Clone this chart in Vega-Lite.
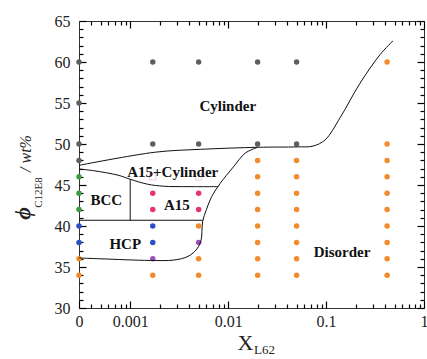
{
  "$schema": "https://vega.github.io/schema/vega-lite/v6.json",
  "width": 345,
  "height": 287,
  "autosize": {"type": "none"},
  "padding": {"left": 79, "top": 21, "right": 3, "bottom": 51},
  "background": "white",
  "config": {
    "view": {"stroke": "#333333", "strokeWidth": 1},
    "mark": {"invalid": "show"}
  },
  "datasets": {
    "pts": [
      {"x": 0, "y": 60, "p": "cyl"}, {"x": 0, "y": 55, "p": "cyl"}, {"x": 0, "y": 50, "p": "cyl"}, {"x": 0, "y": 48, "p": "cyl"},
      {"x": 0, "y": 46, "p": "bcc"}, {"x": 0, "y": 44, "p": "bcc"}, {"x": 0, "y": 42, "p": "bcc"},
      {"x": 0, "y": 40, "p": "hcp"}, {"x": 0, "y": 38, "p": "hcp"},
      {"x": 0, "y": 36, "p": "dis"}, {"x": 0, "y": 34, "p": "dis"},
      {"x": 0.0017, "y": 60, "p": "cyl"}, {"x": 0.0017, "y": 50, "p": "cyl"},
      {"x": 0.0017, "y": 44, "p": "a15"}, {"x": 0.0017, "y": 42, "p": "a15"},
      {"x": 0.0017, "y": 40, "p": "hcp"}, {"x": 0.0017, "y": 38, "p": "hcp"},
      {"x": 0.0017, "y": 36, "p": "mix"}, {"x": 0.0017, "y": 34, "p": "dis"},
      {"x": 0.005, "y": 60, "p": "cyl"}, {"x": 0.005, "y": 50, "p": "cyl"},
      {"x": 0.005, "y": 44, "p": "a15"}, {"x": 0.005, "y": 42, "p": "a15"},
      {"x": 0.005, "y": 40, "p": "dis"}, {"x": 0.005, "y": 38, "p": "mix"},
      {"x": 0.005, "y": 36, "p": "dis"}, {"x": 0.005, "y": 34, "p": "dis"},
      {"x": 0.02, "y": 60, "p": "cyl"}, {"x": 0.02, "y": 50, "p": "cyl"},
      {"x": 0.02, "y": 48, "p": "dis"}, {"x": 0.02, "y": 46, "p": "dis"}, {"x": 0.02, "y": 44, "p": "dis"}, {"x": 0.02, "y": 42, "p": "dis"},
      {"x": 0.02, "y": 40, "p": "dis"}, {"x": 0.02, "y": 38, "p": "dis"}, {"x": 0.02, "y": 36, "p": "dis"}, {"x": 0.02, "y": 34, "p": "dis"},
      {"x": 0.05, "y": 60, "p": "cyl"}, {"x": 0.05, "y": 50, "p": "cyl"},
      {"x": 0.05, "y": 48, "p": "dis"}, {"x": 0.05, "y": 46, "p": "dis"}, {"x": 0.05, "y": 44, "p": "dis"}, {"x": 0.05, "y": 42, "p": "dis"},
      {"x": 0.05, "y": 40, "p": "dis"}, {"x": 0.05, "y": 38, "p": "dis"}, {"x": 0.05, "y": 36, "p": "dis"}, {"x": 0.05, "y": 34, "p": "dis"},
      {"x": 0.42, "y": 60, "p": "dis"}, {"x": 0.42, "y": 50, "p": "dis"},
      {"x": 0.42, "y": 48, "p": "dis"}, {"x": 0.42, "y": 46, "p": "dis"}, {"x": 0.42, "y": 44, "p": "dis"}, {"x": 0.42, "y": 42, "p": "dis"},
      {"x": 0.42, "y": 40, "p": "dis"}, {"x": 0.42, "y": 38, "p": "dis"}, {"x": 0.42, "y": 36, "p": "dis"}, {"x": 0.42, "y": 34, "p": "dis"}
    ],
    "sq": [
      {"x": 0.0017, "y": 46}, {"x": 0.005, "y": 46}
    ],
    "curves": [
      {"id": "cyl", "o": 1, "x": 0, "y": 47.4},
      {"id": "cyl", "o": 2, "x": 0.0018, "y": 49.0},
      {"id": "cyl", "o": 3, "x": 0.0052, "y": 49.35},
      {"id": "cyl", "o": 4, "x": 0.0202, "y": 49.6},
      {"id": "cyl", "o": 5, "x": 0.0506, "y": 49.65},
      {"id": "cyl", "o": 6, "x": 0.0736, "y": 49.75},
      {"id": "cyl", "o": 7, "x": 0.0977, "y": 50.5},
      {"id": "cyl", "o": 8, "x": 0.139, "y": 53.2},
      {"id": "cyl", "o": 9, "x": 0.222, "y": 57.4},
      {"id": "cyl", "o": 10, "x": 0.356, "y": 60.9},
      {"id": "cyl", "o": 11, "x": 0.483, "y": 62.6},
      {"id": "a15", "o": 1, "x": 0.02, "y": 49.6},
      {"id": "a15", "o": 2, "x": 0.015, "y": 48.9},
      {"id": "a15", "o": 3, "x": 0.0113, "y": 47.2},
      {"id": "a15", "o": 4, "x": 0.0083, "y": 45.2},
      {"id": "a15", "o": 5, "x": 0.0068, "y": 43.6},
      {"id": "a15", "o": 6, "x": 0.006, "y": 42.0},
      {"id": "a15", "o": 7, "x": 0.0055, "y": 40.6},
      {"id": "a15", "o": 8, "x": 0.0054, "y": 39.3},
      {"id": "a15", "o": 9, "x": 0.0053, "y": 38.3},
      {"id": "a15", "o": 10, "x": 0.0048, "y": 37.2},
      {"id": "a15", "o": 11, "x": 0.0039, "y": 36.3},
      {"id": "a15", "o": 12, "x": 0.0028, "y": 35.85},
      {"id": "a15", "o": 13, "x": 0.0016, "y": 35.8},
      {"id": "a15", "o": 14, "x": 0.0005, "y": 36.0},
      {"id": "a15", "o": 15, "x": 0, "y": 36.1},
      {"id": "a15cyl", "o": 1, "x": 0, "y": 46.95},
      {"id": "a15cyl", "o": 2, "x": 0.00042, "y": 46.75},
      {"id": "a15cyl", "o": 3, "x": 0.00075, "y": 46.2},
      {"id": "a15cyl", "o": 4, "x": 0.001, "y": 45.7},
      {"id": "a15cyl", "o": 5, "x": 0.0015, "y": 45.1},
      {"id": "a15cyl", "o": 6, "x": 0.0022, "y": 44.85},
      {"id": "a15cyl", "o": 7, "x": 0.004, "y": 44.8},
      {"id": "a15cyl", "o": 8, "x": 0.0079, "y": 44.8}
    ],
    "straight": [
      {"id": "bcchcp", "o": 1, "x": 0, "y": 40.7},
      {"id": "bcchcp", "o": 2, "x": 0.0055, "y": 40.7},
      {"id": "bcca15", "o": 1, "x": 0.001, "y": 40.7},
      {"id": "bcca15", "o": 2, "x": 0.001, "y": 45.7}
    ],
    "labels": [
      {"x": 0.0099, "y": 54.6, "t": "Cylinder"},
      {"x": 0.00272, "y": 46.6, "t": "A15+Cylinder"},
      {"x": 0.00057, "y": 43.2, "t": "BCC"},
      {"x": 0.0030, "y": 42.6, "t": "A15"},
      {"x": 0.00089, "y": 37.8, "t": "HCP"},
      {"x": 0.1455, "y": 36.8, "t": "Disorder"}
    ]
  },
  "resolve": {"axis": {"x": "independent", "y": "independent"}},
  "layer": [
    {
      "data": {"name": "pts"},
      "mark": {"type": "circle", "size": 30, "opacity": 1},
      "encoding": {
        "x": {
          "field": "x", "type": "quantitative",
          "scale": {"type": "log", "domain": [0.0003, 1], "clamp": true, "nice": false},
          "axis": {
            "orient": "bottom",
            "values": [0.0003, 0.001, 0.01, 0.1, 1],
            "labelExpr": "datum.value < 0.00035 ? '0' : format(datum.value, '~g')",
            "offset": -7, "ticks": true, "tickSize": 7, "tickWidth": 1.2, "tickColor": "#000000",
            "labelPadding": 5,
            "labelFont": "Liberation Serif", "labelFontSize": 16, "labelColor": "#222222",
            "labelOverlap": false, "labelFlush": false, "labelBound": false,
            "domain": false, "grid": false,
            "title": "X",
            "titleFont": "Liberation Serif", "titleFontSize": 22, "titleFontWeight": "normal", "titleColor": "#222222",
            "titleX": 166, "titleY": 41, "titleBaseline": "middle", "titleAlign": "center"
          }
        },
        "y": {
          "field": "y", "type": "quantitative",
          "scale": {"domain": [30, 65], "nice": false, "zero": false},
          "axis": {
            "orient": "left",
            "values": [30, 35, 40, 45, 50, 55, 60, 65],
            "offset": -7, "ticks": true, "tickSize": 7, "tickWidth": 1.2, "tickColor": "#000000",
            "labelPadding": 9,
            "labelFont": "Liberation Serif", "labelFontSize": 16, "labelColor": "#222222",
            "labelOverlap": false, "labelFlush": false,
            "domain": false, "grid": false,
            "title": "ϕ",
            "titleFont": "Liberation Serif", "titleFontSize": 22, "titleFontStyle": "italic", "titleFontWeight": "bold", "titleColor": "#222222",
            "titleX": -64, "titleY": 192, "titleBaseline": "middle", "titleAlign": "center", "titleAngle": 270
          }
        },
        "color": {
          "field": "p", "type": "nominal",
          "scale": {"domain": ["cyl", "bcc", "hcp", "dis", "a15", "mix"], "range": ["#5f5f5f", "#3e9a45", "#2a4fc4", "#f28b2c", "#e8336e", "#9a50b8"]},
          "legend": null
        }
      }
    },
    {
      "data": {"name": "sq"},
      "mark": {"type": "point", "shape": "square", "filled": false, "size": 40, "stroke": "#e2b2d8", "strokeWidth": 1},
      "encoding": {
        "x": {"field": "x", "type": "quantitative", "scale": {"type": "log", "domain": [0.0003, 1], "clamp": true, "nice": false}, "axis": null},
        "y": {
          "field": "y", "type": "quantitative", "scale": {"domain": [30, 65], "nice": false, "zero": false},
          "axis": {
            "orient": "left", "labels": false, "ticks": true, "domain": false, "grid": false,
            "values": [31,32,33,34,36,37,38,39,41,42,43,44,46,47,48,49,51,52,53,54,56,57,58,59,61,62,63,64],
            "offset": -4, "tickSize": 4, "tickWidth": 1.2, "tickColor": "#000000",
            "title": "/ wt%",
            "titleFont": "Liberation Serif", "titleFontSize": 16, "titleFontStyle": "italic", "titleFontWeight": "normal", "titleColor": "#222222",
            "titleX": -58, "titleY": 132, "titleBaseline": "middle", "titleAlign": "center", "titleAngle": 270
          }
        }
      }
    },
    {
      "data": {"name": "curves"},
      "mark": {"type": "line", "interpolate": "catmull-rom", "stroke": "#111111", "strokeWidth": 1},
      "encoding": {
        "x": {
          "field": "x", "type": "quantitative", "scale": {"type": "log", "domain": [0.0003, 1], "clamp": true, "nice": false},
          "axis": {
            "orient": "top", "labels": false, "domain": false, "grid": false, "title": null, "ticks": true,
            "values": [0.001, 0.01, 0.1, 1],
            "offset": -7, "tickSize": 7, "tickWidth": 1.2, "tickColor": "#000000"
          }
        },
        "y": {
          "field": "y", "type": "quantitative", "scale": {"domain": [30, 65], "nice": false, "zero": false},
          "axis": {
            "orient": "right", "labels": false, "domain": false, "grid": false, "title": null, "ticks": true,
            "values": [30, 35, 40, 45, 50, 55, 60, 65],
            "offset": -7, "tickSize": 7, "tickWidth": 1.2, "tickColor": "#000000"
          }
        },
        "detail": {"field": "id", "type": "nominal"},
        "order": {"field": "o", "type": "quantitative"}
      }
    },
    {
      "data": {"name": "straight"},
      "mark": {"type": "line", "interpolate": "linear", "stroke": "#111111", "strokeWidth": 1},
      "encoding": {
        "x": {
          "field": "x", "type": "quantitative", "scale": {"type": "log", "domain": [0.0003, 1], "clamp": true, "nice": false},
          "axis": {
            "orient": "top", "labels": false, "domain": false, "grid": false, "title": null, "ticks": true,
            "values": [0.0004,0.0005,0.0006,0.0007,0.0008,0.0009,0.002,0.003,0.004,0.005,0.006,0.007,0.008,0.009,0.02,0.03,0.04,0.05,0.06,0.07,0.08,0.09,0.2,0.3,0.4,0.5,0.6,0.7,0.8,0.9],
            "offset": -4, "tickSize": 4, "tickWidth": 1.2, "tickColor": "#000000"
          }
        },
        "y": {
          "field": "y", "type": "quantitative", "scale": {"domain": [30, 65], "nice": false, "zero": false},
          "axis": {
            "orient": "right", "labels": false, "domain": false, "grid": false, "title": null, "ticks": true,
            "values": [31,32,33,34,36,37,38,39,41,42,43,44,46,47,48,49,51,52,53,54,56,57,58,59,61,62,63,64],
            "offset": -4, "tickSize": 4, "tickWidth": 1.2, "tickColor": "#000000"
          }
        },
        "detail": {"field": "id", "type": "nominal"},
        "order": {"field": "o", "type": "quantitative"}
      }
    },
    {
      "data": {"name": "labels"},
      "mark": {"type": "text", "font": "Liberation Serif", "fontWeight": "bold", "fontSize": 15, "color": "#111111", "align": "center", "baseline": "middle"},
      "encoding": {
        "x": {
          "field": "x", "type": "quantitative", "scale": {"type": "log", "domain": [0.0003, 1], "clamp": true, "nice": false},
          "axis": {
            "orient": "bottom", "labels": false, "ticks": true, "domain": false, "grid": false,
            "values": [0.0004,0.0005,0.0006,0.0007,0.0008,0.0009,0.002,0.003,0.004,0.005,0.006,0.007,0.008,0.009,0.02,0.03,0.04,0.05,0.06,0.07,0.08,0.09,0.2,0.3,0.4,0.5,0.6,0.7,0.8,0.9],
            "offset": -4, "tickSize": 4, "tickWidth": 1.2, "tickColor": "#000000",
            "title": "L62",
            "titleFont": "Liberation Serif", "titleFontSize": 13, "titleFontWeight": "normal", "titleColor": "#222222",
            "titleX": 185, "titleY": 45, "titleBaseline": "middle", "titleAlign": "center"
          }
        },
        "y": {
          "field": "y", "type": "quantitative", "scale": {"domain": [30, 65], "nice": false, "zero": false},
          "axis": {
            "orient": "left", "labels": false, "ticks": false, "domain": false, "grid": false,
            "title": "C12E8",
            "titleFont": "Liberation Serif", "titleFontSize": 11, "titleFontWeight": "normal", "titleColor": "#222222",
            "titleX": -41, "titleY": 171, "titleBaseline": "middle", "titleAlign": "center", "titleAngle": 270
          }
        },
        "text": {"field": "t", "type": "nominal"}
      }
    }
  ]
}
